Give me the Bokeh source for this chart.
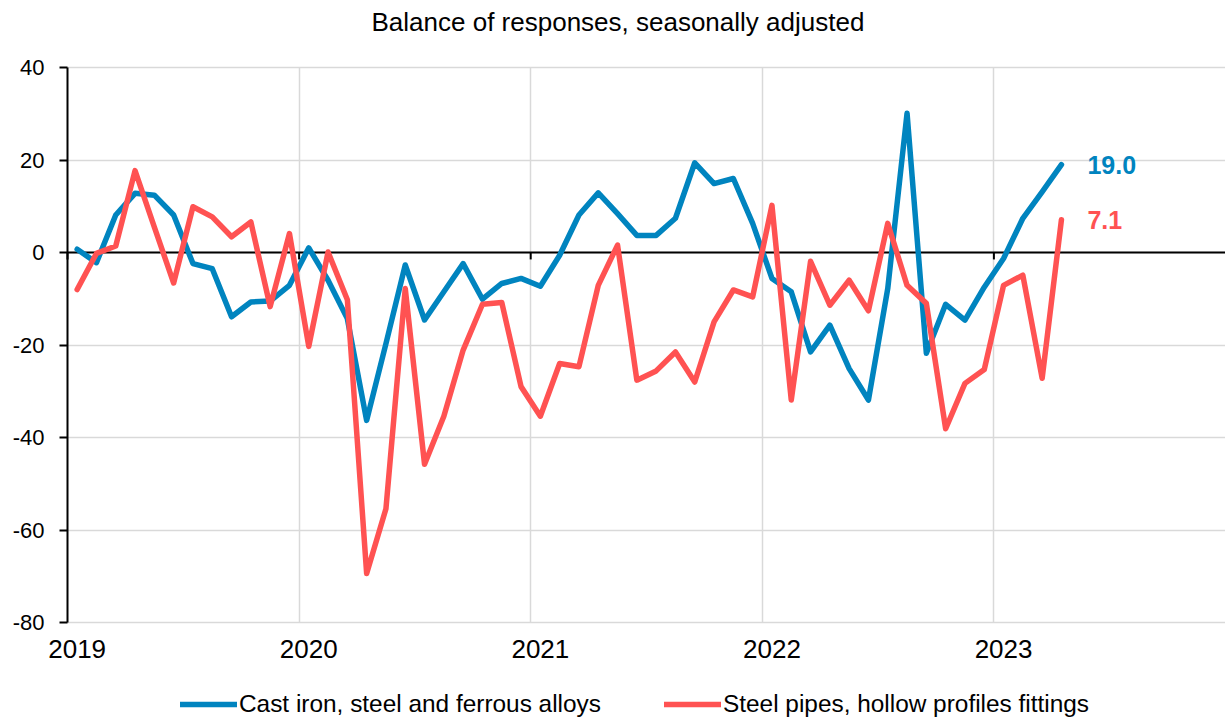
from bokeh.plotting import figure
from bokeh.models import (ColumnDataSource, FixedTicker, CustomJSTickFormatter,
                          Legend, LegendItem, Title)
from bokeh.core.properties import value
from bokeh.embed import file_html
from bokeh.resources import INLINE

# Monthly survey balances, Jan 2019 - Apr 2023
start_year = 2019
end_year = 2024
year_ticks = [2019, 2020, 2021, 2022, 2023]
y_ticks = [-80, -60, -40, -20, 0, 20, 40]

series_names = ["Cast iron, steel and ferrous alloys",
                "Steel pipes, hollow profiles fittings"]

cast_iron = [
    0.7, -2.2, 8.1, 12.8, 12.4, 8.1, -2.4, -3.5, -13.9, -10.7, -10.5, -7.1,
    1.0, -6.0, -14.3, -36.3, -19.7, -2.7, -14.6, -8.5, -2.4, -10.1, -6.7, -5.6,
    -7.3, -0.6, 8.1, 12.9, 8.4, 3.7, 3.7, 7.4, 19.4, 14.9, 16.0, 6.3,
    -5.6, -8.5, -21.5, -15.7, -25.1, -31.9, -7.8, 30.1, -21.8, -11.2, -14.6, -7.5,
    -1.3, 7.4, 13.1, 19.0,
]

steel_pipes = [
    -8.0, -0.2, 1.4, 17.7, 5.5, -6.6, 9.9, 7.7, 3.4, 6.6, -11.7, 4.1,
    -20.3, 0.1, -10.2, -69.4, -55.4, -7.8, -45.8, -35.4, -21.1, -11.2, -10.8, -29.0,
    -35.4, -24.0, -24.7, -7.1, 1.6, -27.6, -25.6, -21.5, -28.0, -15.0, -8.1, -9.6,
    10.2, -31.9, -1.9, -11.4, -6.0, -12.6, 6.3, -7.1, -11.0, -38.1, -28.3, -25.3,
    -7.1, -4.9, -27.2, 7.1,
]

BLUE = "#0084BF"
RED = "#FF5252"
GRID = "#D9D9D9"
FONT = "Liberation Sans"

# page geometry (pixels): the value axis spans AXIS_LEFT..W and AXIS_TOP..AXIS_BOTTOM;
# the frame itself fills the page below the title so labels and legend fit inside it
W, H = 1225, 722
TOP = 38
AXIS_LEFT, AXIS_TOP, AXIS_BOTTOM = 67, 67, 622
Y_LO, Y_HI = y_ticks[0], y_ticks[-1]
px_per_unit = (AXIS_BOTTOM - AXIS_TOP) / (Y_HI - Y_LO)
y_start = Y_LO - (H - AXIS_BOTTOM) / px_per_unit
y_end = Y_HI + (AXIS_TOP - TOP) / px_per_unit
px_per_year = (W - AXIS_LEFT) / (end_year - start_year)
x_start = start_year - AXIS_LEFT / px_per_year

# each observation sits in the middle of its month
months = [start_year + (i + 0.5) / 12 for i in range(len(cast_iron))]
src = ColumnDataSource(dict(x=months, a=cast_iron, b=steel_pipes))

p = figure(width=W, height=H, output_backend="svg", toolbar_location=None,
           x_range=(x_start, end_year), y_range=(y_start, y_end),
           min_border_left=0, min_border_right=0, min_border_top=TOP,
           min_border_bottom=0)
p.outline_line_color = None
p.background_fill_color = "white"
p.border_fill_color = "white"

title = Title(text="Balance of responses, seasonally adjusted", align="left",
              offset=371, standoff=3, vertical_align="bottom",
              text_font=FONT, text_font_size="26px", text_font_style="normal",
              text_color="black")
p.add_layout(title, "above")

xax = p.xaxis[0]
yax = p.yaxis[0]

# grid, limited to the value area
p.xgrid.ticker = FixedTicker(ticks=year_ticks[1:])
p.ygrid.ticker = FixedTicker(ticks=y_ticks)
for g in (p.xgrid[0], p.ygrid[0]):
    g.grid_line_color = GRID
    g.grid_line_width = 1.5
p.xgrid[0].cross_bounds = (Y_LO, Y_HI)
p.ygrid[0].cross_bounds = (start_year, end_year)

# y axis drawn at the first year
yax.fixed_location = start_year
yax.ticker = FixedTicker(ticks=y_ticks)
yax.bounds = (Y_LO, Y_HI)
yax.formatter = CustomJSTickFormatter(code="return tick.toFixed(0)")
yax.axis_line_color = "black"
yax.axis_line_width = 2
yax.major_tick_line_color = "black"
yax.major_tick_line_width = 2
yax.major_tick_out = 8
yax.major_tick_in = 0
yax.minor_tick_line_color = None
yax.major_label_standoff = 15
yax.major_label_text_font = FONT
yax.major_label_text_font_size = "22px"
yax.major_label_text_color = "black"

# x axis sits at the bottom of the value range; year labels under January
xax.fixed_location = Y_LO
xax.ticker = FixedTicker(ticks=[yr + 0.5 / 12 for yr in year_ticks])
xax.formatter = CustomJSTickFormatter(code="return Math.floor(tick).toFixed(0)")
xax.axis_line_color = None
xax.major_tick_line_color = None
xax.minor_tick_line_color = None
xax.major_tick_out = 0
xax.major_tick_in = 0
xax.major_label_standoff = 17
xax.major_label_text_font = FONT
xax.major_label_text_font_size = "26px"
xax.major_label_text_color = "black"

# zero line with small year ticks hanging from it
p.segment(x0=[start_year], y0=[0], x1=[end_year], y1=[0],
          line_color="black", line_width=2)
p.segment(x0=year_ticks, y0=[0] * len(year_ticks), x1=year_ticks,
          y1=[-1.5] * len(year_ticks), line_color="black", line_width=2)

r_a = p.line("x", "a", source=src, line_color=BLUE, line_width=5.5,
             line_join="round", line_cap="round")
r_b = p.line("x", "b", source=src, line_color=RED, line_width=5.5,
             line_join="round", line_cap="round")

# latest values at the line ends
last = dict(x=[months[-1], months[-1]], y=[cast_iron[-1], steel_pipes[-1]],
            t=[f"{cast_iron[-1]:.1f}", f"{steel_pipes[-1]:.1f}"], c=[BLUE, RED])
p.text(x="x", y="y", text="t", source=ColumnDataSource(last), text_color="c",
       text_font=value(FONT), text_font_size="25px", text_font_style="bold",
       text_baseline="middle", text_align="left", x_offset=26)

# legend along the bottom edge
legend = Legend(items=[LegendItem(label=series_names[0], renderers=[r_a]),
                       LegendItem(label=series_names[1], renderers=[r_b])],
                orientation="horizontal", location=(180, 4),
                glyph_width=57, glyph_height=28, label_height=28,
                label_standoff=2, spacing=63,
                padding=0, margin=0, border_line_color=None,
                background_fill_alpha=0,
                label_text_font=FONT, label_text_font_size="24.4px",
                label_text_color="black")
p.add_layout(legend, "center")

open("out.html", "w").write(file_html(p, INLINE))
